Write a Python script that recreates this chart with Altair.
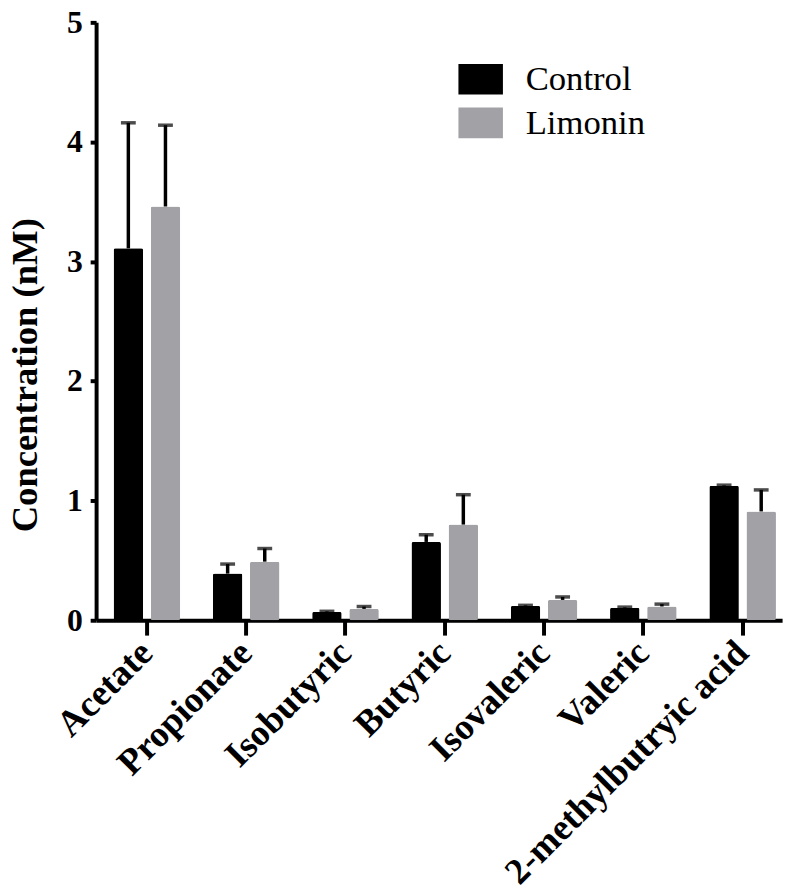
import altair as alt
import pandas as pd

categories = ["Acetate", "Propionate", "Isobutyric", "Butyric", "Isovaleric", "Valeric", "2-methylbutryic acid"]
groups = ["Control", "Limonin"]
control_mean = [3.11, 0.39, 0.07, 0.655, 0.12, 0.105, 1.125]
control_sd = [1.05, 0.08, 0.005, 0.06, 0.005, 0.005, 0.005]
limonin_mean = [3.46, 0.49, 0.095, 0.80, 0.17, 0.115, 0.91]
limonin_sd = [0.68, 0.11, 0.02, 0.25, 0.025, 0.02, 0.18]
y_ticks = [0, 1, 2, 3, 4, 5]
colors = ["#000000", "#a2a2a6"]

rows = []
for i, c in enumerate(categories):
    rows.append(dict(cat=c, group="Control", mean=control_mean[i], top=control_mean[i] + control_sd[i]))
    rows.append(dict(cat=c, group="Limonin", mean=limonin_mean[i], top=limonin_mean[i] + limonin_sd[i]))
df = pd.DataFrame(rows)

FONT = "Liberation Serif"

x_enc = alt.X(
    "cat:N", sort=categories,
    scale=alt.Scale(paddingInner=0.329, paddingOuter=0.119, align=0.74),
    axis=alt.Axis(title=None, labelAngle=-45, labelAlign="right", labelBaseline="middle",
                  labelFontSize=37, labelFont=FONT, labelFontWeight="bold", labelPadding=12,
                  tickSize=15, tickWidth=4, domainWidth=4, labelColor="black",
                  domainColor="black", tickColor="black", labelLimit=1000),
)
xo_enc = alt.XOffset("group:N", sort=groups, scale=alt.Scale(paddingInner=0.205, paddingOuter=0))
y_scale = alt.Scale(domain=[0, 5], nice=False)

bars = alt.Chart(df).mark_bar(cornerRadius=2).encode(
    x=x_enc,
    xOffset=xo_enc,
    y=alt.Y("mean:Q", scale=y_scale,
            axis=alt.Axis(values=y_ticks, format="d", title="Concentration (nM)",
                          titleFont=FONT, titleFontSize=37, titleFontWeight="bold",
                          titleAngle=270, titleBaseline="middle", titleAlign="center",
                          titleX=-71, titleY=356, titleColor="black",
                          labelFont=FONT, labelFontSize=32, labelFontWeight="bold",
                          labelColor="black", labelPadding=8, tickSize=6, tickWidth=4,
                          domainWidth=4, domainColor="black", tickColor="black", grid=False)),
    color=alt.Color("group:N", sort=groups,
                    scale=alt.Scale(domain=groups, range=colors),
                    legend=alt.Legend(title=None, orient="none", legendX=371, legendY=40,
                                      symbolType="M-1.45,-1H1.45V1H-1.45Z", symbolSize=961,
                                      symbolStrokeWidth=0, labelFont=FONT, labelFontSize=35,
                                      labelColor="black", labelOffset=28, rowPadding=8,
                                      padding=0, direction="vertical")),
)

err = alt.Chart(df).mark_rule(color="black", strokeWidth=3.5).encode(
    x=alt.X("cat:N", sort=categories),
    xOffset=alt.XOffset("group:N", sort=groups),
    y=alt.Y("mean:Q"),
    y2="top:Q",
)

caps = alt.Chart(df).mark_tick(color="black", size=15, thickness=3.5).encode(
    x=alt.X("cat:N", sort=categories),
    xOffset=alt.XOffset("group:N", sort=groups),
    y=alt.Y("top:Q"),
)

chart = alt.layer(bars, err, caps).properties(
    width=693, height=604,
    autosize=alt.AutoSizeParams(type="none"),
    padding={"left": 89, "top": 10, "right": 10, "bottom": 269},
).configure(font=FONT).configure_view(stroke=None).configure_axis(
    grid=False, labelFont=FONT, titleFont=FONT
).configure_legend(labelFont=FONT)

chart.save("out.html", embed_options={"renderer": "svg", "actions": False})
